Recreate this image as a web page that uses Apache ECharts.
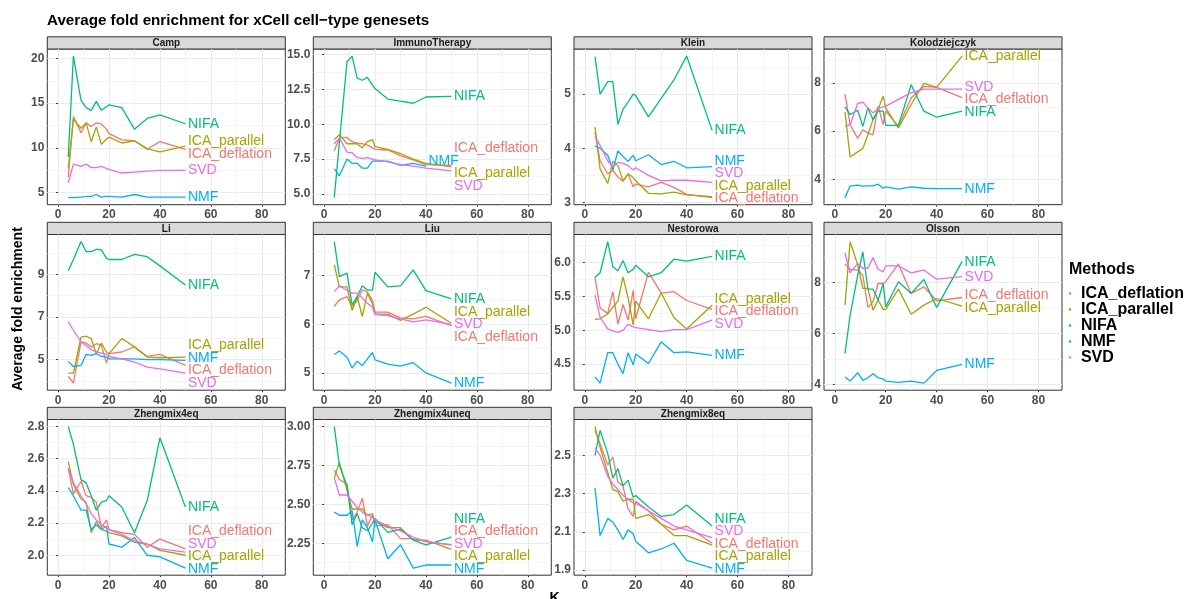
<!DOCTYPE html>
<html><head><meta charset="utf-8">
<script src="https://cdn.jsdelivr.net/npm/echarts@6/dist/echarts.min.js"></script>
<style>html,body{margin:0;padding:0;background:#fff}#c{width:1188px;height:599px}</style>
</head><body><div id="c"></div>
<script>
// ---------- data ----------
const K = [4, 6, 9, 11, 13, 15, 17, 19, 20, 25, 30, 35, 40, 50];
const methods = ['ICA_deflation', 'ICA_parallel', 'NIFA', 'NMF', 'SVD'];
const colors = ['#F8766D', '#A3A500', '#00BF7D', '#00B0F6', '#E76BF3'];
const panelNames = ['Camp', 'ImmunoTherapy', 'Klein', 'Kolodziejczyk', 'Li', 'Liu', 'Nestorowa', 'Olsson', 'Zhengmix4eq', 'Zhengmix4uneq', 'Zhengmix8eq'];
const xTicks = [0, 20, 40, 60, 80];
const xMinorTicks = [10, 30, 50, 70];

const Camp = {
  ICA_deflation: [6.75, 13.5, 11.7, 12.8, 12.4, 12.8, 12.65, 12.1, 11.6, 10.9, 10.8, 9.85, 10.7, 9.85],
  ICA_parallel: [7.7, 13.2, 12.2, 12.8, 10.7, 12.35, 10.4, 11.0, 11.2, 10.55, 10.8, 9.9, 9.55, 10.2],
  NIFA: [9.0, 20.26, 15.3, 14.5, 14.2, 15.2, 14.2, 14.6, 14.8, 14.5, 12.1, 13.3, 13.7, 12.7],
  NMF: [4.45, 4.45, 4.5, 4.6, 4.6, 4.8, 4.5, 4.6, 4.6, 4.5, 4.8, 4.5, 4.5, 4.5],
  SVD: [6.1, 8.2, 7.95, 8.2, 7.8, 7.8, 7.95, 7.7, 7.6, 7.2, 7.3, 7.4, 7.5, 7.5]
};
const ImmunoTherapy = {
  ICA_deflation: [8.1, 9.0, 9.05, 8.75, 8.65, 8.6, 8.5, 8.3, 8.2, 8.15, 7.75, 7.45, 7.1, 7.05],
  ICA_parallel: [8.9, 9.25, 8.6, 8.6, 8.6, 8.3, 8.75, 8.9, 8.4, 8.2, 7.9, 7.5, 7.2, 6.95],
  NIFA: [4.74, 8.7, 14.47, 14.88, 13.3, 13.15, 13.35, 12.8, 12.55, 11.8, 11.65, 11.5, 11.95, 12.0],
  NMF: [6.8, 6.3, 7.5, 7.2, 7.2, 6.85, 6.85, 7.35, 7.35, 7.35, 7.05, 7.2, 7.0, null],
  SVD: [8.6, 9.0, 8.0, 7.95, 7.6, 7.55, 7.6, 7.5, 7.45, 7.3, 7.1, 7.0, 6.85, 6.65]
};
const Klein = {
  ICA_deflation: [4.3, 3.77, 3.53, 3.59, 3.47, 3.39, 3.53, 3.29, 3.34, 3.29, 3.37, 3.28, 3.15, 3.09],
  ICA_parallel: [4.39, 3.62, 3.35, 3.76, 3.68, 3.4, 3.53, 3.46, 3.4, 3.17, 3.16, 3.19, 3.14, 3.11],
  NIFA: [5.69, 5.0, 5.23, 5.23, 4.44, 4.72, 4.85, 5.0, 4.97, 4.58, 4.92, 5.26, 5.7, 4.33],
  NMF: [4.04, 4.0, 3.87, 3.6, 3.95, 3.85, 3.76, 3.87, 3.77, 3.88, 3.7, 3.76, 3.64, 3.66],
  SVD: [4.22, 4.05, 3.77, 3.65, 3.74, 3.72, 3.68, 3.6, 3.64, 3.5, 3.4, 3.41, 3.41, 3.37]
};
const Kolodziejczyk = {
  ICA_deflation: [7.54, 6.27, 5.7, 6.06, 5.92, 5.85, 7.04, 6.27, 6.83, 6.2, 7.39, 7.86, 7.82, 7.39],
  ICA_parallel: [6.79, 4.93, 5.14, 5.28, 5.85, 6.48, 6.9, 7.46, 6.97, 6.13, 7.11, 7.99, 7.82, 9.12],
  NIFA: [7.01, 6.69, 6.87, 6.2, 6.97, 6.48, 6.83, 6.83, 6.24, 6.24, 7.93, 6.83, 6.58, 6.83],
  NMF: [3.24, 3.72, 3.76, 3.72, 3.73, 3.73, 3.8, 3.63, 3.69, 3.59, 3.69, 3.63, 3.61, 3.61],
  SVD: [6.2, 6.27, 7.15, 7.21, 6.97, 6.76, 6.94, 7.01, 7.04, 7.32, 7.6, 7.75, 7.75, 7.75]
};
const Li = {
  ICA_deflation: [4.21, 3.9, 5.83, 5.78, 5.6, 5.75, 5.67, 4.84, 5.28, 5.36, 5.6, 5.15, 5.25, 4.73],
  ICA_parallel: [4.37, 4.37, 6.06, 6.1, 5.99, 5.28, 5.78, 5.36, 5.28, 5.99, 5.6, 5.12, 5.09, 5.12],
  NIFA: [9.17, 9.7, 10.54, 10.07, 10.07, 10.18, 10.15, 9.75, 9.7, 9.7, 9.94, 9.83, 9.4, 8.5],
  NMF: [4.92, 4.68, 4.73, 5.25, 5.2, 5.28, 5.15, 5.12, 5.04, 5.04, 5.04, 5.0, 5.0, 4.97],
  SVD: [6.77, 6.38, 5.83, 5.67, 5.47, 5.36, 5.31, 5.25, 5.15, 5.04, 4.89, 4.65, 4.57, 4.37]
};
const Liu = {
  ICA_deflation: [6.37, 6.5, 6.57, 6.35, 6.49, 6.71, 6.66, 6.49, 6.25, 6.25, 6.13, 6.11, 6.16, 5.97],
  ICA_parallel: [7.22, 6.77, 6.77, 6.28, 6.57, 6.16, 6.64, 6.42, 6.21, 6.21, 6.08, 6.21, 6.35, 6.02],
  NIFA: [7.7, 6.98, 7.05, 6.4, 6.57, 6.79, 6.7, 6.7, 7.07, 6.77, 6.79, 7.12, 6.69, 6.52],
  NMF: [5.38, 5.45, 5.32, 5.1, 5.24, 5.15, 5.29, 5.42, 5.27, 5.18, 5.14, 5.21, 5.0, 4.79],
  SVD: [6.67, 6.79, 6.7, 6.64, 6.64, 6.54, 6.43, 6.35, 6.2, 6.18, 6.11, 6.05, 6.09, 6.0]
};
const Nestorowa = {
  ICA_deflation: [5.78, 5.33, 5.25, 5.57, 5.09, 5.38, 5.15, 5.59, 5.17, 5.86, 5.55, 5.57, 5.44, 5.31],
  ICA_parallel: [5.16, 5.17, 5.24, 5.34, 5.43, 5.79, 5.48, 5.08, 5.43, 5.17, 5.55, 5.19, 5.02, 5.37],
  NIFA: [5.78, 5.85, 6.31, 5.94, 5.88, 6.03, 5.85, 5.9, 5.96, 5.79, 5.85, 6.05, 6.02, 6.09],
  NMF: [4.31, 4.22, 4.67, 4.67, 4.5, 4.36, 4.67, 4.49, 4.65, 4.51, 4.83, 4.67, 4.68, 4.63],
  SVD: [5.52, 5.19, 5.02, 4.99, 4.97, 5.0, 5.09, 5.05, 5.04, 5.01, 4.98, 5.01, 5.01, 5.15]
};
const Olsson = {
  ICA_deflation: [8.74, 8.53, 8.5, 8.3, 7.03, 7.25, 7.97, 7.97, 8.04, 8.74, 7.58, 7.84, 7.29, 7.42],
  ICA_parallel: [7.12, 9.62, 8.7, 7.78, 7.78, 6.92, 7.32, 6.95, 6.95, 7.75, 6.76, 7.12, 7.38, 7.08],
  NIFA: [5.21, 6.72, 8.3, 9.22, 7.75, 7.75, 7.32, 7.97, 7.05, 8.04, 7.58, 8.13, 7.03, 8.83],
  NMF: [4.29, 4.13, 4.46, 4.16, 4.26, 4.42, 4.26, 4.22, 4.13, 4.08, 4.13, 4.05, 4.55, 4.79],
  SVD: [9.18, 8.39, 8.76, 8.57, 8.57, 8.99, 8.53, 8.43, 8.66, 8.66, 8.39, 8.5, 8.14, 8.24]
};
const Zhengmix4eq = {
  ICA_deflation: [2.54, 2.38, 2.46, 2.37, 2.36, 2.33, 2.17, 2.22, 2.16, 2.14, 2.13, 2.05, 2.1, 2.04],
  ICA_parallel: [2.58, 2.44, 2.35, 2.33, 2.14, 2.21, 2.16, 2.15, 2.14, 2.12, 2.08, 2.07, 2.03, 2.0],
  NIFA: [2.8, 2.69, 2.47, 2.45, 2.37, 2.28, 2.33, 2.34, 2.37, 2.3, 2.14, 2.34, 2.73, 2.3],
  NMF: [2.42, 2.37, 2.28, 2.28, 2.16, 2.19, 2.16, 2.18, 2.07, 2.05, 2.11, 2.0, 1.99, 1.92],
  SVD: [2.54, 2.45, 2.37, 2.32, 2.26, 2.22, 2.19, 2.17, 2.16, 2.13, 2.09, 2.07, 2.04, 2.02]
};
const Zhengmix4uneq = {
  ICA_deflation: [2.72, 2.66, 2.63, 2.4, 2.45, 2.54, 2.36, 2.43, 2.36, 2.37, 2.28, 2.28, 2.26, 2.24],
  ICA_parallel: [2.67, 2.77, 2.59, 2.47, 2.47, 2.47, 2.43, 2.44, 2.39, 2.35, 2.35, 2.27, 2.27, 2.21],
  NIFA: [3.0, 2.75, 2.62, 2.37, 2.44, 2.35, 2.33, 2.38, 2.41, 2.32, 2.34, 2.27, 2.24, 2.29],
  NMF: [2.45, 2.43, 2.43, 2.46, 2.23, 2.4, 2.35, 2.26, 2.4, 2.15, 2.24, 2.09, 2.11, 2.11],
  SVD: [2.67, 2.56, 2.56, 2.52, 2.48, 2.45, 2.43, 2.42, 2.4, 2.36, 2.33, 2.29, 2.26, 2.24]
};
const Zhengmix8eq = {
  ICA_deflation: [2.63, 2.56, 2.45, 2.49, 2.36, 2.34, 2.22, 2.18, 2.26, 2.21, 2.14, 2.11, 2.13, 2.04],
  ICA_parallel: [2.65, 2.54, 2.41, 2.32, 2.31, 2.26, 2.27, 2.27, 2.17, 2.19, 2.14, 2.08, 2.08, 2.03],
  NIFA: [2.5, 2.63, 2.51, 2.38, 2.43, 2.34, 2.37, 2.28, 2.29, 2.23, 2.18, 2.19, 2.24, 2.13],
  NMF: [2.33, 2.08, 2.17, 2.15, 2.11, 2.06, 2.11, 2.09, 2.05, 1.99, 2.01, 2.04, 1.95, 1.91],
  SVD: [2.54, 2.5, 2.39, 2.35, 2.32, 2.29, 2.27, 2.25, 2.25, 2.21, 2.17, 2.13, 2.11, 2.07]
};
const panelValues = [Camp, ImmunoTherapy, Klein, Kolodziejczyk, Li, Liu, Nestorowa, Olsson, Zhengmix4eq, Zhengmix4uneq, Zhengmix8eq];

const yTicksCamp = [5, 10, 15, 20];
const yTicksImmuno = [5, 7.5, 10, 12.5, 15];
const yTicksKlein = [3, 4, 5];
const yTicksKolod = [4, 6, 8];
const yTicksLi = [5, 7, 9];
const yTicksLiu = [5, 6, 7];
const yTicksNestorowa = [4.5, 5, 5.5, 6];
const yTicksOlsson = [4, 6, 8];
const yTicksZ4eq = [2.0, 2.2, 2.4, 2.6, 2.8];
const yTicksZ4uneq = [2.25, 2.5, 2.75, 3.0];
const yTicksZ8eq = [1.9, 2.1, 2.3, 2.5];
const panelYTicks = [yTicksCamp, yTicksImmuno, yTicksKlein, yTicksKolod, yTicksLi, yTicksLiu, yTicksNestorowa, yTicksOlsson, yTicksZ4eq, yTicksZ4uneq, yTicksZ8eq];

// ---------- layout ----------
const FONT = '"Liberation Sans", Arial, Helvetica, sans-serif';
const colLeft = [47.3, 313.3, 574, 824];
const plotTop = [49, 234.5, 419.5];
const PW = 238, PH = 155.7, STRIP = 12.2;
const X_MIN = -4.25, X_MAX = 89.25;
const LABEL_H = 12.5;

function decimals(arr) {
  return Math.max(...arr.map(v => { const s = String(v); const i = s.indexOf('.'); return i < 0 ? 0 : s.length - i - 1; }));
}
function minorTicks(t, lo, hi) {
  const step = t[1] - t[0], out = [];
  for (let v = t[0] - step / 2; v <= t[t.length - 1] + step / 2 + 1e-9; v += step) {
    if (v >= lo && v <= hi) out.push(+v.toFixed(6));
  }
  return out;
}
// isotonic (PAVA) spreading of direct labels, like directlabels' last.qp
function spread(targets, lo, hi, h) {
  const n = targets.length;
  const s = targets.map((t, i) => t - i * h);
  const blocks = [];
  s.forEach(v => {
    blocks.push({ sum: v, cnt: 1 });
    while (blocks.length > 1) {
      const b = blocks[blocks.length - 1], a = blocks[blocks.length - 2];
      if (a.sum / a.cnt > b.sum / b.cnt) { a.sum += b.sum; a.cnt += b.cnt; blocks.pop(); } else break;
    }
  });
  const z = [];
  blocks.forEach(b => { for (let j = 0; j < b.cnt; j++) z.push(b.sum / b.cnt); });
  const zl = lo, zh = hi - (n - 1) * h;
  return z.map((v, i) => Math.min(Math.max(v, zl), zh) + i * h);
}

const grids = [], xAxes = [], yAxes = [], series = [], graphics = [];
const axisLabelStyle = { color: '#4d4d4d', fontWeight: 'bold', fontSize: 12, fontFamily: FONT };

panelNames.forEach((name, i) => {
  const col = i % 4, row = Math.floor(i / 4);
  const left = colLeft[col], top = plotTop[row];
  const vals = panelValues[i];
  let lo = Infinity, hi = -Infinity;
  methods.forEach(m => vals[m].forEach(v => { if (v != null) { lo = Math.min(lo, v); hi = Math.max(hi, v); } }));
  const r = hi - lo;
  const yMin = lo - 0.05 * r, yMax = hi + 0.05 * r;
  const ticks = panelYTicks[i];
  const dec = decimals(ticks);

  grids.push({ left, top, width: PW, height: PH, show: true, backgroundColor: '#fff', borderColor: '#333', borderWidth: 1, containLabel: false, outerBoundsMode: 'none' });
  xAxes.push({
    gridIndex: i, type: 'value', min: X_MIN, max: X_MAX, position: 'bottom',
    axisLine: { show: false },
    axisTick: { show: true, length: 2, lineStyle: { color: '#333' }, customValues: xTicks },
    axisLabel: Object.assign({ customValues: xTicks, margin: 4 }, axisLabelStyle),
    splitLine: { show: true, lineStyle: { color: '#ebebeb', width: 1 } }
  });
  xAxes.push({
    gridIndex: i, type: 'value', min: X_MIN, max: X_MAX, position: 'top',
    axisLine: { show: false },
    axisTick: { show: false, customValues: xMinorTicks },
    axisLabel: { show: false, customValues: xMinorTicks },
    splitLine: { show: true, lineStyle: { color: '#eeeeee', width: 0.6 } }
  });
  yAxes.push({
    gridIndex: i, type: 'value', min: yMin, max: yMax, position: 'left',
    axisLine: { show: false },
    axisTick: { show: true, length: 2, lineStyle: { color: '#333' }, customValues: ticks },
    axisLabel: Object.assign({ customValues: ticks, margin: 3, formatter: v => Number(v).toFixed(dec) }, axisLabelStyle),
    splitLine: { show: true, lineStyle: { color: '#ebebeb', width: 1 } }
  });
  const mt = minorTicks(ticks, yMin, yMax);
  yAxes.push({
    gridIndex: i, type: 'value', min: yMin, max: yMax, position: 'right',
    axisLine: { show: false },
    axisTick: { show: false, customValues: mt },
    axisLabel: { show: false, customValues: mt },
    splitLine: { show: true, lineStyle: { color: '#eeeeee', width: 0.6 } }
  });

  // direct label positions
  const ends = methods.map((m, mi) => {
    const arr = vals[m];
    let j = arr.length - 1; while (arr[j] == null) j--;
    return { mi, k: K[j], v: arr[j], py: (yMax - arr[j]) / (yMax - yMin) * PH };
  });
  ends.sort((a, b) => a.py - b.py);
  const placed = spread(ends.map(e => e.py), LABEL_H / 2, PH - LABEL_H / 2, LABEL_H);
  const labelPos = {};
  ends.forEach((e, j) => { labelPos[e.mi] = { k: e.k, v: yMax - placed[j] / PH * (yMax - yMin) }; });

  methods.forEach((m, mi) => {
    const data = [];
    K.forEach((k, j) => { if (vals[m][j] != null) data.push([k, vals[m][j]]); });
    series.push({
      type: 'line', name: m, xAxisIndex: 2 * i, yAxisIndex: 2 * i, data,
      symbol: 'none', clip: false, silent: true,
      lineStyle: { color: colors[mi], width: 1.3 },
      itemStyle: { color: colors[mi] },
      markPoint: {
        symbol: 'circle', symbolSize: 1, silent: true,
        itemStyle: { color: 'rgba(0,0,0,0)' },
        label: { show: true, position: 'right', distance: 2, formatter: m, color: colors[mi], fontSize: 14, fontFamily: FONT },
        data: [{ coord: [labelPos[mi].k, labelPos[mi].v] }]
      }
    });
  });

  // strip
  graphics.push({ type: 'rect', shape: { x: left, y: top - STRIP, width: PW, height: STRIP }, style: { fill: '#d9d9d9', stroke: '#333', lineWidth: 1 } });
  graphics.push({ type: 'text', x: left + PW / 2, y: top - STRIP / 2 + 0.5, style: { text: name, font: 'bold 10px ' + FONT, fill: '#1a1a1a', align: 'center', verticalAlign: 'middle', textAlign: 'center', textVerticalAlign: 'middle' } });
});

graphics.push({ type: 'text', x: 18, y: 309, rotation: Math.PI / 2, style: { text: 'Average fold enrichment', font: 'bold 14px ' + FONT, fill: '#000', align: 'center', verticalAlign: 'middle', textAlign: 'center', textVerticalAlign: 'middle' } });
graphics.push({ type: 'text', x: 554.5, y: 598, style: { text: 'K', font: 'bold 14px ' + FONT, fill: '#000', align: 'center', verticalAlign: 'middle', textAlign: 'center', textVerticalAlign: 'middle' } });

const chart = echarts.init(document.getElementById('c'));
chart.setOption({
  animation: false,
  backgroundColor: '#fff',
  title: [
    { text: 'Average fold enrichment for xCell cell\u2212type genesets', left: 47, top: 13, padding: 0, textStyle: { fontFamily: FONT, fontWeight: 'bold', fontSize: 15.2, color: '#000' } },
    { text: 'Methods', left: 1069, top: 262, padding: 0, textStyle: { fontFamily: FONT, fontWeight: 'bold', fontSize: 16, color: '#000' } }
  ],
  legend: {
    data: methods, orient: 'vertical', left: 1068.7, top: 285.6, padding: 0,
    icon: 'circle', itemWidth: 12, itemHeight: 2.5, symbolKeepAspect: true, itemGap: 0,
    selectedMode: false,
    textStyle: { fontFamily: FONT, fontWeight: 'bold', fontSize: 16, color: '#000', lineHeight: 15.4 }
  },
  grid: grids,
  xAxis: xAxes,
  yAxis: yAxes,
  series: series,
  graphic: graphics
});
</script>
</body></html>
